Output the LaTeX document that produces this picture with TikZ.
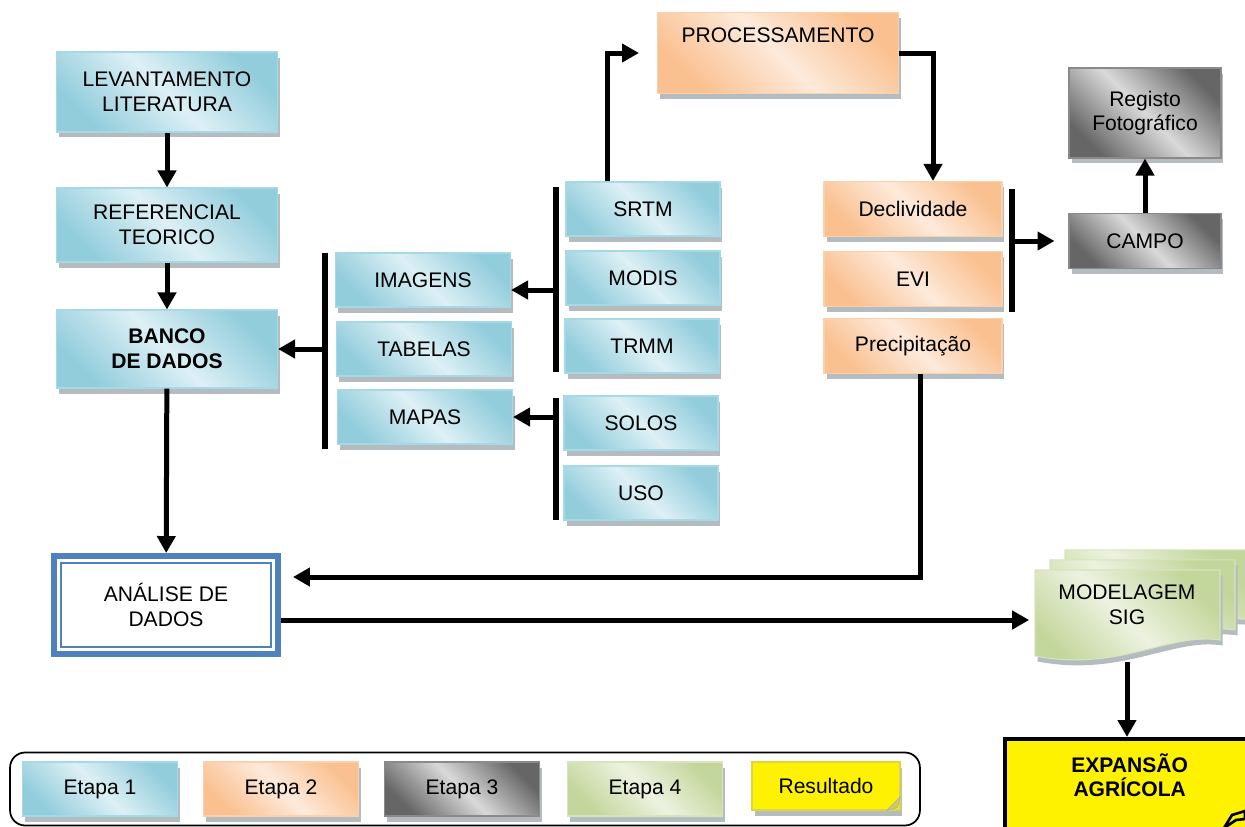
\documentclass[tikz,border=0pt]{standalone}
\usepackage{fontspec}
\setmainfont{Liberation Sans}
\usetikzlibrary{arrows.meta, calc, positioning, shadows}

\definecolor{azulE}{HTML}{92CDDC}
\definecolor{azulC}{HTML}{DDF0F5}
\definecolor{azulB}{HTML}{A6D8E5}
\definecolor{larE}{HTML}{FAC08F}
\definecolor{larC}{HTML}{FDEADB}
\definecolor{larB}{HTML}{FBD0AC}
\definecolor{cinzaE}{HTML}{666666}
\definecolor{cinzaC}{HTML}{D9D9D9}
\definecolor{cinzaB}{HTML}{8A8A8A}
\definecolor{verdeE}{HTML}{C3D69B}
\definecolor{verdeC}{HTML}{EDF2E0}
\definecolor{verdeB}{HTML}{D7E4BD}
\definecolor{anaAzul}{HTML}{4F81BD}
\definecolor{sombra}{HTML}{B4BCC0}

\begin{document}
\begin{tikzpicture}[x=0.02cm, y=-0.02cm, font=\fontsize{12}{14}\selectfont,
    caixa/.style={align=center, inner sep=0pt, line width=0.6pt,
      drop shadow={shadow xshift=0.05cm, shadow yshift=-0.11cm, fill=sombra, opacity=1}},
    etapa1/.style={caixa, draw=azulB, top color=azulE, bottom color=azulE, middle color=azulC, shading angle=-45},
    etapa2/.style={caixa, draw=larB, top color=larE, bottom color=larE, middle color=larC, shading angle=-45},
    etapa3/.style={caixa, draw=cinzaB, top color=cinzaE, bottom color=cinzaE, middle color=cinzaC, shading angle=-45},
    etapa4/.style={caixa, draw=verdeB, top color=verdeE, bottom color=verdeE, middle color=verdeC, shading angle=-45},
    med/.style={minimum width=3.5cm, minimum height=1.08cm},
    peq/.style={minimum width=3.08cm, minimum height=1.08cm},
    lar/.style={minimum width=3.56cm, minimum height=1.1cm},
    leg/.style={minimum width=3.1cm, minimum height=1.08cm},
    seta/.style={line width=0.1cm, -{Triangle[length=0.34cm, width=0.36cm]}},
    barra/.style={line width=0.12cm}]
  \useasboundingbox (0,0) rectangle (1245,826);
  \clip (0,0) rectangle (1245,826);

  % etapa 1
  \node[etapa1, minimum width=4.42cm, minimum height=1.6cm] (lev) at (167,92) {LEVANTAMENTO\\LITERATURA};
  \node[etapa1, minimum width=4.42cm, minimum height=1.48cm] (ref) at (167,225) {REFERENCIAL\\TEORICO};
  \node[etapa1, minimum width=4.42cm, minimum height=1.56cm, font=\fontsize{12}{14}\selectfont\bfseries] (banco) at (167,349) {BANCO\\DE DADOS};
  \node[etapa1, med] (img) at (423,280) {IMAGENS};
  \node[etapa1, med] (tab) at (424,349) {TABELAS};
  \node[etapa1, med] (map) at (425,417) {MAPAS};
  \node[etapa1, peq] (srtm) at (643,209) {SRTM};
  \node[etapa1, peq] (modis) at (643,278) {MODIS};
  \node[etapa1, peq] (trmm) at (642,346) {TRMM};
  \node[etapa1, peq] (solos) at (641,423) {SOLOS};
  \node[etapa1, peq] (uso) at (641,493) {USO};

  % etapa 2
  \node[etapa2, minimum width=4.82cm, text height=0.6cm, text depth=1.02cm, inner ysep=0pt] (proc) at (778,53) {PROCESSAMENTO};
  \node[etapa2, lar] (decl) at (913,209) {Declividade};
  \node[etapa2, lar] (evi) at (913,279) {EVI};
  \node[etapa2, lar] (prec) at (913,346) {Precipitação};

  % etapa 3
  \node[etapa3, minimum width=3.04cm, minimum height=1.8cm] (reg) at (1145,113) {Registo\\Fotográfico};
  \node[etapa3, minimum width=3.04cm, minimum height=1.1cm] (campo) at (1145,241) {CAMPO};

  % analise
  \node[draw=anaAzul, line width=0.12cm, fill=white, minimum width=4.48cm, minimum height=1.96cm, align=center] (ana) at (166,605) {ANÁLISE DE\\DADOS};
  \draw[anaAzul, line width=1.2pt] ($(ana.north west)+(10,10)$) rectangle ($(ana.south east)+(-10,-10)$);

  % etapa 4
  \foreach \d in {30,15,0}
    \draw[etapa4] (1035+\d,570-0.67*\d) -- (1220+\d,570-0.67*\d) -- (1220+\d,640-0.67*\d)
      .. controls (1170+\d,632-0.67*\d) and (1120+\d,672-0.67*\d) .. (1035+\d,656-0.67*\d) -- cycle;
  \node[align=center, minimum width=3.7cm, minimum height=2.28cm] (mod) at (1127,605) {MODELAGEM\\SIG};

  % resultado
  \node[draw, line width=2pt, fill=yellow, anchor=north west, minimum width=5cm, inner ysep=0pt,
    text height=1.16cm, text depth=1.6cm, align=center, font=\fontsize{12}{14}\selectfont\bfseries] (exp) at (1003,737) {EXPANSÃO\\AGRÍCOLA};
  \filldraw[line width=1.5pt, fill=yellow] (1224,828) -- (1232,815) -- (1245,811) -- (1245,819) -- (1236,820) -- cycle;

  % barras
  \coordinate (b1t) at (325,253); \coordinate (b1b) at (325,449);
  \coordinate (b2t) at (556,187); \coordinate (b2b) at (556,372);
  \coordinate (b3t) at (556,398); \coordinate (b3b) at (556,520);
  \coordinate (b4t) at (1012,189); \coordinate (b4b) at (1012,312);
  \draw[barra] (b1t) -- (b1b);
  \draw[barra] (b2t) -- (b2b);
  \draw[barra] (b3t) -- (b3b);
  \draw[barra] (b4t) -- (b4b);

  % setas
  \draw[seta] (lev) -- (ref);
  \draw[seta] (ref) -- (banco);
  \draw[seta] (banco) -- (ana);
  \draw[seta] (b1t |- banco.east) -- (banco.east);
  \draw[seta] ($(b2t)+(0,103)$) -- ($(img.east)+(0,10)$);
  \draw[seta] (b3t |- map.east) -- (map.east);
  \draw[seta, shorten >=0.36cm] ($(srtm.north)+(-36,0)$) |- (proc.west);
  \draw[seta] (proc.east) -| ($(decl.north)+(20,0)$);
  \draw[seta, shorten >=0.28cm] (b4t |- campo.west) -- (campo.west);
  \draw[seta] (campo) -- (reg);
  \draw[seta, shorten >=0.24cm] ($(prec.south)+(7,0)$) |- ($(ana.east)+(0,-28)$);
  \draw[seta, shorten >=0.1cm] ($(ana.east)+(0,15)$) -- ($(mod.west)+(0,15)$);
  \draw[seta] (mod.south) -- (mod.south |- exp.north);

  % legenda
  \node[draw, line width=1pt, rounded corners=0.3cm, minimum width=18.2cm, minimum height=1.46cm] (legenda) at (465,789) {};
  \node[etapa1, leg] (l1) at (100,789) {Etapa 1};
  \node[etapa2, leg] (l2) at (281,789) {Etapa 2};
  \node[etapa3, leg] (l3) at (462,789) {Etapa 3};
  \node[etapa4, leg] (l4) at (645,789) {Etapa 4};
  \node[caixa, draw=yellow!70!gray, fill=yellow, minimum width=2.96cm, minimum height=0.96cm] (l5) at (826,786) {Resultado};
  \filldraw[fill=yellow!60!gray, draw=gray!60] ($(l5.south east)+(-14,0)$) -- ($(l5.south east)+(0,-14)$) -- ($(l5.south east)+(-3,-3)$) -- cycle;
\end{tikzpicture}
\end{document}
